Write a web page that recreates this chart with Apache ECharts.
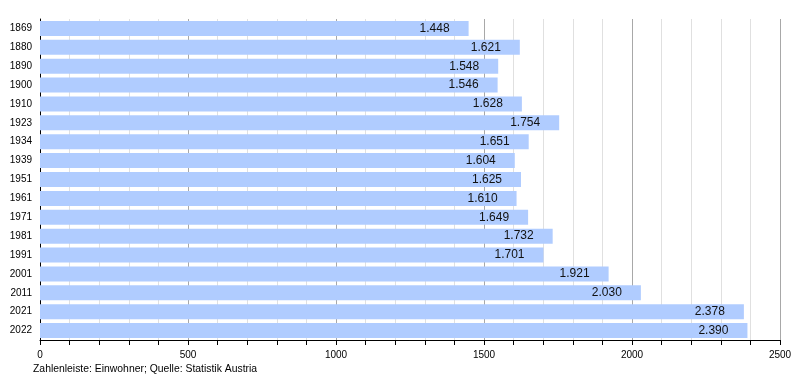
<!DOCTYPE html>
<html><head><meta charset="utf-8">
<script src="https://cdn.jsdelivr.net/npm/echarts@6/dist/echarts.min.js"></script>
<style>html,body{margin:0;padding:0;background:#fff}#c{width:800px;height:380px}</style>
</head><body><div id="c"></div>
<script>
const years = ['1869','1880','1890','1900','1910','1923','1934','1939','1951','1961','1971','1981','1991','2001','2011','2021','2022'];
const population = [1448,1621,1548,1546,1628,1754,1651,1604,1625,1610,1649,1732,1701,1921,2030,2378,2390];
const footerText = 'Zahlenleiste: Einwohner; Quelle: Statistik Austria';

function fmt(v){ return String(v).replace(/\B(?=(\d{3})+(?!\d))/g,'.'); }

const chart = echarts.init(document.getElementById('c'), null, {renderer:'canvas'});
chart.setOption({
  animation:false,
  textStyle:{fontFamily:'Liberation Sans, Arial, sans-serif'},
  grid:{left:40, right:20, top:19, bottom:40, containLabel:false},
  xAxis:{
    type:'value', min:0, max:2500, interval:500,
    axisLine:{show:true, lineStyle:{color:'#000', width:1}},
    axisTick:{show:true, length:5, lineStyle:{color:'#000'}},
    minorTick:{show:true, splitNumber:5, length:5, lineStyle:{color:'#000'}},
    splitLine:{show:true, lineStyle:{color:'#a8a8a8', width:1}},
    minorSplitLine:{show:true, lineStyle:{color:'#e0e0e0', width:1}},
    axisLabel:{color:'#000', fontSize:10, margin:10, formatter:v=>String(v), fontFamily:'Liberation Sans, Arial, sans-serif'}
  },
  yAxis:{
    type:'category', data:years, inverse:true,
    axisLine:{show:true, lineStyle:{color:'#000', width:1}},
    axisTick:{show:false},
    splitLine:{show:false},
    axisLabel:{color:'#000', fontSize:10, margin:8, fontFamily:'Liberation Sans, Arial, sans-serif'}
  },
  series:[{
    type:'bar', data:population, barWidth:15,
    itemStyle:{color:'#b0ccff'},
    label:{show:true, position:'insideRight', distance:19, color:'#111', fontSize:12,
      fontFamily:'Liberation Sans, Arial, sans-serif', formatter:p=>fmt(p.value)}
  }],
  graphic:[{type:'text', left:33, top:364, style:{text:footerText, fill:'#000', fontSize:10.4, fontFamily:'Liberation Sans, Arial, sans-serif'}}]
});
</script></body></html>
